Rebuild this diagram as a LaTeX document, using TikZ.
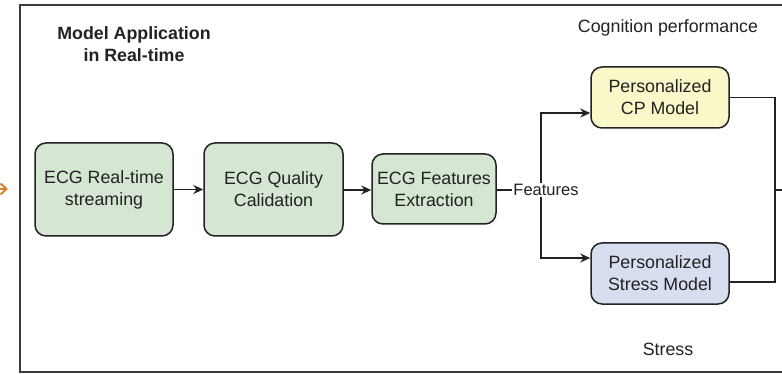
\documentclass[tikz,border=0pt]{standalone}
\usepackage{fontspec}
\setmainfont{Liberation Sans}
\usetikzlibrary{arrows.meta,positioning,calc}

\definecolor{ink}{HTML}{222222}
\definecolor{greenfill}{HTML}{D5E6D2}
\definecolor{yellowfill}{HTML}{FAF8C8}
\definecolor{bluefill}{HTML}{D6DEF0}
\definecolor{framecol}{HTML}{3A3A3A}
\definecolor{inflow}{HTML}{D9822B}

\tikzset{
  x=1pt, y=-1pt,
  procbox/.style={draw=ink, line width=1.5pt, rounded corners=11pt, align=center,
    text=ink, font=\fontsize{17.8}{22}\selectfont, inner sep=0pt},
  conn/.style={draw=ink, line width=1.6pt},
  arrowconn/.style={conn, -{Stealth[length=10pt,width=9pt]}},
  plaintext/.style={text=ink, align=center, font=\fontsize{17.8}{22}\selectfont},
}

\begin{document}
\begin{tikzpicture}
  % page and clipping window
  \useasboundingbox (0,0) rectangle (782,374);
  \fill[white] (0,0) rectangle (782,374);
  \clip (0,0) rectangle (782,374);

  % enclosing frame of this panel
  \draw[framecol, line width=1.8pt] (20,5) rectangle (800,372);

  % incoming arrow from the previous panel
  \coordinate (inA) at (-30,189);
  \coordinate (inB) at (8,189);
  \draw[inflow, line width=2pt, -{Straight Barb[length=6pt,width=11pt]}] (inA) -- (inB);

  % titles and labels
  \node[plaintext, font=\bfseries\fontsize{17.8}{22}\selectfont] (title) at (134,44)
    {Model Application\\in Real-time};
  \node[plaintext] (cplabel) at (668,28) {Cognition performance};
  \node[plaintext] (stlabel) at (668,349) {Stress};

  % processing chain
  \node[procbox, fill=greenfill, minimum width=138pt, minimum height=93pt] (s1) at (104,189.5)
    {ECG Real-time\\streaming};
  \node[procbox, fill=greenfill, minimum width=139pt, minimum height=93pt] (s2) at (273.5,189.5)
    {ECG Quality\\Calidation};
  \node[procbox, fill=greenfill, minimum width=124pt, minimum height=70pt] (s3) at (434,189)
    {ECG Features\\Extraction};

  % personalised models
  \node[procbox, fill=yellowfill, minimum width=138pt, minimum height=61pt] (cp) at (660,97.5)
    {Personalized\\CP Model};
  \node[procbox, fill=bluefill, minimum width=138pt, minimum height=61pt] (st) at (660,273.5)
    {Personalized\\Stress Model};

  % chain connectors
  \draw[arrowconn] (s1.east) -- (s2.west);
  \draw[arrowconn] (s2.east |- 0,190) -- (s3.west |- 0,190);

  % feature split
  \coordinate (split) at (541,190);
  \draw[conn] (s3.east |- split) -- (split);
  \draw[arrowconn] (split) |- ([yshift=-15.5pt]cp.west);
  \draw[arrowconn] (split) |- ([yshift=15.5pt]st.west);
  \node[fill=white, inner sep=1pt, text=ink, font=\fontsize{16.5}{20}\selectfont] (feat) at (546,190) {Features};

  % model outputs merged on the right
  \coordinate (merge) at (775,190);
  \coordinate (outR) at (800,190);
  \draw[conn] (cp.east) -| (merge);
  \draw[conn] ([yshift=-8.5pt]st.east) -| (merge);
  \draw[conn] (merge) -- (outR);
\end{tikzpicture}
\end{document}
